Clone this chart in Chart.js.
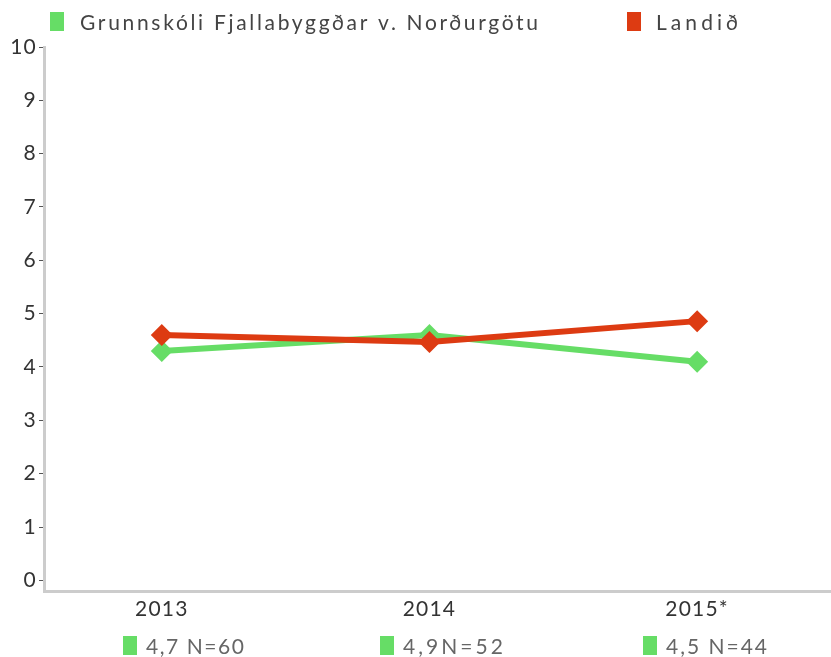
<!DOCTYPE html>
<html>
<head>
<meta charset="utf-8">
<script src="https://cdn.jsdelivr.net/npm/chart.js"></script>
<style>
  html, body { margin: 0; padding: 0; background: #fff; }
  #wrap { width: 831px; height: 657px; }
</style>
</head>
<body>
<div id="wrap"><canvas id="chart" width="831" height="657"></canvas></div>
<script>
// Data
const years = ['2013', '2014', '2015*'];
const schoolName = 'Grunnskóli Fjallabyggðar v. Norðurgötu';
const countryName = 'Landið';
const schoolValues = [4.3, 4.6, 4.1];
const countryValues = [4.6, 4.47, 4.86];
const notes = ['4,7 N=60', '4,9N=52', '4,5 N=44'];
const yTicks = [0, 1, 2, 3, 4, 5, 6, 7, 8, 9, 10];

const GREEN = '#66dd66';
const RED = '#dd3b12';
const FONT = 'Lato, "Open Sans", sans-serif';

// Draw text with letter spacing stretched to a target width
function spacedText(ctx, text, x, y, target) {
  ctx.letterSpacing = '0px';
  const w = ctx.measureText(text).width;
  const sp = target ? (target - w) / (text.length - 1) : 1.2;
  ctx.letterSpacing = sp + 'px';
  ctx.fillText(text, x, y);
  ctx.letterSpacing = '0px';
}

/* ==========================
   Legend + bottom notes
========================== */
const extraText = {
  id: 'extraText',
  beforeDraw(chart) {
    chart.ctx.letterSpacing = '1.2px';
  },
  afterDraw(chart) {
    const ctx = chart.ctx;
    ctx.save();
    ctx.textBaseline = 'alphabetic';
    ctx.textAlign = 'left';
    ctx.font = '21px ' + FONT;

    // top legend
    ctx.fillStyle = GREEN;
    ctx.fillRect(50, 12, 14, 19);
    ctx.fillStyle = '#444';
    spacedText(ctx, schoolName, 80, 30, 458);
    ctx.fillStyle = RED;
    ctx.fillRect(627, 12, 14, 19);
    ctx.fillStyle = '#444';
    spacedText(ctx, countryName, 656, 30, 82);

    // notes under the x labels
    ctx.font = '21px ' + FONT;
    const lefts = [123, 380, 643];
    const widths = [98, 100, 101];
    notes.forEach((t, i) => {
      ctx.fillStyle = GREEN;
      ctx.fillRect(lefts[i], 636, 14, 19);
      ctx.fillStyle = '#666';
      spacedText(ctx, t, lefts[i] + 23, 654, widths[i]);
    });
    ctx.restore();
  }
};

new Chart(document.getElementById('chart'), {
  type: 'line',
  data: {
    datasets: [
      {
        label: schoolName,
        data: schoolValues.map((v, i) => ({ x: i, y: v })),
        borderColor: GREEN,
        backgroundColor: GREEN,
        borderWidth: 6,
        pointStyle: 'rectRot',
        pointRadius: 11,
        pointBorderWidth: 0,
        tension: 0,
        order: 1
      },
      {
        label: countryName,
        data: countryValues.map((v, i) => ({ x: i, y: v })),
        borderColor: RED,
        backgroundColor: RED,
        borderWidth: 6,
        pointStyle: 'rectRot',
        pointRadius: 11,
        pointBorderWidth: 0,
        tension: 0,
        order: 0
      }
    ]
  },
  options: {
    responsive: false,
    animation: false,
    layout: { autoPadding: false, padding: { top: 47, right: 0, left: 0, bottom: 0 } },
    plugins: {
      legend: { display: false },
      tooltip: { enabled: false }
    },
    scales: {
      x: {
        type: 'linear',
        min: -0.44,
        max: 2.5,
        afterBuildTicks: (scale) => { scale.ticks = years.map((_, i) => ({ value: i })); },
        afterFit: (scale) => {
          scale.height = 66;
          scale.paddingLeft = 0;
          scale.paddingRight = 0;
        },
        ticks: {
          color: '#333',
          font: { family: FONT, size: 21 },
          padding: 6,
          maxRotation: 0,
          autoSkip: false,
          callback: (v) => years[v]
        },
        grid: { display: false, drawTicks: false },
        border: { color: '#cccccc', width: 3 }
      },
      y: {
        min: -0.2,
        max: 10,
        afterBuildTicks: (scale) => { scale.ticks = yTicks.map(v => ({ value: v })); },
        afterFit: (scale) => { scale.width = 44; },
        ticks: {
          color: '#333',
          font: { family: FONT, size: 21 },
          padding: 2,
          callback: (v) => v
        },
        grid: {
          drawOnChartArea: false,
          drawTicks: true,
          tickLength: 5,
          tickColor: '#555',
          lineWidth: 1
        },
        border: { color: '#cccccc', width: 3 }
      }
    }
  },
  plugins: [extraText]
});
</script>
</body>
</html>
